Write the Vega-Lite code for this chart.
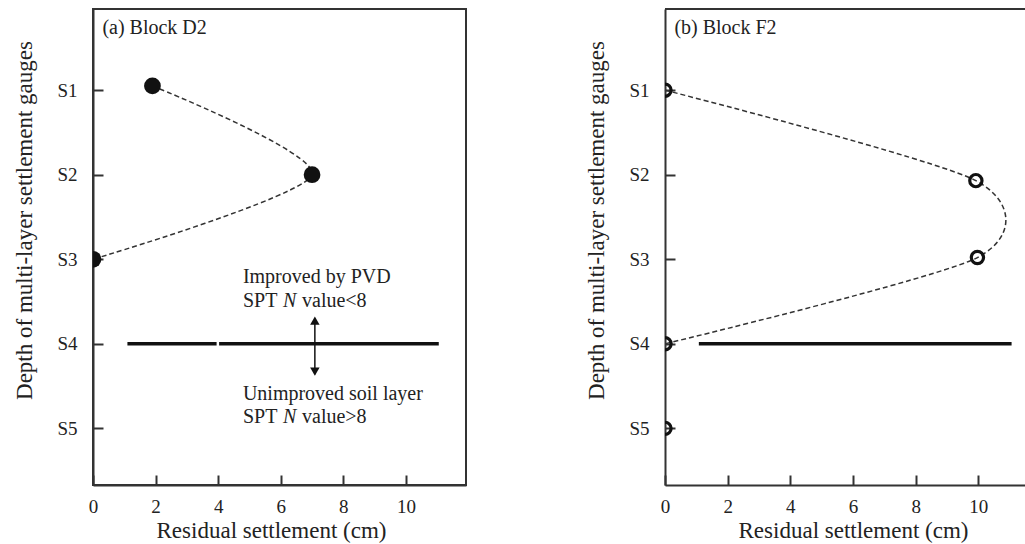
{
  "$schema": "https://vega.github.io/schema/vega-lite/v6.json",
  "background": "white",
  "padding": {"left": 12, "top": 8, "right": 0, "bottom": 0},
  "spacing": 118,
  "datasets": {
    "d2pts": [
      {"x": 1.9, "y": 0.95, "gauge": "S1"},
      {"x": 7.0, "y": 2.0, "gauge": "S2"},
      {"x": 0.0, "y": 3.0, "gauge": "S3"}
    ],
    "f2pts": [
      {"x": 0.0, "y": 1.0, "gauge": "S1", "onCurve": true},
      {"x": 9.92, "y": 2.07, "gauge": "S2", "onCurve": true},
      {"x": 9.97, "y": 2.98, "gauge": "S3", "onCurve": true},
      {"x": 0.0, "y": 4.0, "gauge": "S4", "onCurve": true},
      {"x": 0.0, "y": 5.0, "gauge": "S5", "onCurve": false}
    ],
    "d2layer": [
      {"x": 1.1, "x2": 3.95, "y": 4},
      {"x": 4.03, "x2": 11.05, "y": 4}
    ],
    "f2layer": [
      {"x": 1.08, "x2": 11.06, "y": 4}
    ],
    "f2frame": [
      {"x": 0, "x2": 11.52, "y": 0.04}
    ],
    "arrow": [
      {"x": 7.09, "y": 3.70, "y2": 4.36}
    ],
    "heads": [
      {"x": 7.09, "y": 3.725, "shape": "triangle-up"},
      {"x": 7.09, "y": 4.33, "shape": "triangle-down"}
    ],
    "d2text": [
      {"t": "Improved by PVD", "x": 4.79, "y": 3.284},
      {"t": "SPT", "x": 4.79, "y": 3.568},
      {"t": "value<8", "x": 6.68, "y": 3.568},
      {"t": "Unimproved soil layer", "x": 4.79, "y": 4.669},
      {"t": "SPT", "x": 4.79, "y": 4.94},
      {"t": "value>8", "x": 6.68, "y": 4.94}
    ],
    "d2italic": [
      {"t": "N", "x": 6.07, "y": 3.568},
      {"t": "N", "x": 6.07, "y": 4.94}
    ],
    "d2label": [{"t": "(a) Block D2", "x": 0.3, "y": 0.337}],
    "f2label": [{"t": "(b) Block F2", "x": 0.3, "y": 0.337}]
  },
  "hconcat": [
    {
      "width": 373,
      "height": 476,
      "view": {"stroke": "#333", "strokeWidth": 2},
      "encoding": {
        "x": {"field": "x", "type": "quantitative",
              "scale": {"domain": [0, 11.92], "nice": false, "zero": false},
              "axis": {"values": [0, 2, 4, 6, 8, 10], "title": "Residual settlement (cm)", "titleX": 178}},
        "y": {"field": "y", "type": "quantitative",
              "scale": {"domain": [0.04, 5.67], "reverse": true, "nice": false, "zero": false},
              "axis": {"values": [1, 2, 3, 4, 5], "labelExpr": "'S' + datum.value", "title": "Depth of multi-layer settlement gauges", "titleY": 211}}
      },
      "layer": [
        {
          "data": {"name": "d2pts"},
          "mark": {"type": "line", "interpolate": "cardinal", "tension": 0.25, "strokeDash": [5, 3], "strokeWidth": 1.5, "color": "#333"},
          "encoding": {"order": {"field": "y", "type": "quantitative"}}
        },
        {
          "data": {"name": "d2pts"},
          "mark": {"type": "point", "filled": true, "shape": "circle", "size": 280, "color": "#111", "opacity": 1, "clip": true}
        },
        {
          "data": {"name": "d2layer"},
          "mark": {"type": "rule", "strokeWidth": 3.5, "color": "#111"},
          "encoding": {"x2": {"field": "x2"}}
        },
        {
          "data": {"name": "arrow"},
          "mark": {"type": "rule", "strokeWidth": 1.5, "color": "#111"},
          "encoding": {"y2": {"field": "y2"}}
        },
        {
          "data": {"name": "heads"},
          "mark": {"type": "point", "filled": true, "size": 90, "color": "#111", "opacity": 1},
          "encoding": {"shape": {"field": "shape", "type": "nominal", "scale": null, "legend": null}}
        },
        {
          "data": {"name": "d2text"},
          "mark": {"type": "text", "align": "left", "baseline": "alphabetic", "font": "Liberation Serif", "fontSize": 20, "color": "#222"},
          "encoding": {"text": {"field": "t"}}
        },
        {
          "data": {"name": "d2italic"},
          "mark": {"type": "text", "align": "left", "baseline": "alphabetic", "font": "Liberation Serif", "fontStyle": "italic", "fontSize": 20, "color": "#222"},
          "encoding": {"text": {"field": "t"}}
        },
        {
          "data": {"name": "d2label"},
          "mark": {"type": "text", "align": "left", "baseline": "alphabetic", "font": "Liberation Serif", "fontSize": 20, "color": "#222"},
          "encoding": {"text": {"field": "t"}}
        }
      ]
    },
    {
      "width": 361,
      "height": 476,
      "view": {"stroke": null},
      "encoding": {
        "x": {"field": "x", "type": "quantitative",
              "scale": {"domain": [0, 11.52], "nice": false, "zero": false},
              "axis": {"values": [0, 2, 4, 6, 8, 10], "title": "Residual settlement (cm)", "titleX": 188}},
        "y": {"field": "y", "type": "quantitative",
              "scale": {"domain": [0.04, 5.67], "reverse": true, "nice": false, "zero": false},
              "axis": {"values": [1, 2, 3, 4, 5], "labelExpr": "'S' + datum.value", "title": "Depth of multi-layer settlement gauges", "titleY": 211}}
      },
      "layer": [
        {
          "data": {"name": "f2frame"},
          "mark": {"type": "rule", "strokeWidth": 2, "color": "#333"},
          "encoding": {"x2": {"field": "x2"}}
        },
        {
          "data": {"name": "f2pts"},
          "transform": [{"filter": "datum.onCurve"}],
          "mark": {"type": "line", "interpolate": "cardinal", "tension": 0.25, "strokeDash": [5, 3], "strokeWidth": 1.5, "color": "#333"},
          "encoding": {"order": {"field": "y", "type": "quantitative"}}
        },
        {
          "data": {"name": "f2pts"},
          "mark": {"type": "point", "filled": false, "shape": "circle", "size": 150, "strokeWidth": 3.2, "color": "#111", "opacity": 1, "clip": true}
        },
        {
          "data": {"name": "f2layer"},
          "mark": {"type": "rule", "strokeWidth": 3.5, "color": "#111"},
          "encoding": {"x2": {"field": "x2"}}
        },
        {
          "data": {"name": "f2label"},
          "mark": {"type": "text", "align": "left", "baseline": "alphabetic", "font": "Liberation Serif", "fontSize": 20, "color": "#222"},
          "encoding": {"text": {"field": "t"}}
        }
      ]
    }
  ],
  "config": {
    "axis": {
      "grid": false,
      "domainColor": "#333",
      "domainWidth": 2,
      "tickColor": "#333",
      "tickWidth": 2,
      "tickSize": -10,
      "labelFont": "Liberation Serif",
      "labelFontSize": 19,
      "labelColor": "#222",
      "titleFont": "Liberation Serif",
      "titleFontSize": 23,
      "titleFontWeight": "normal",
      "titleColor": "#222"
    },
    "axisX": {"labelPadding": 22, "titlePadding": 3, "labelAngle": 0, "labelFlush": false},
    "axisY": {"labelPadding": 26, "titlePadding": 20}
  }
}
